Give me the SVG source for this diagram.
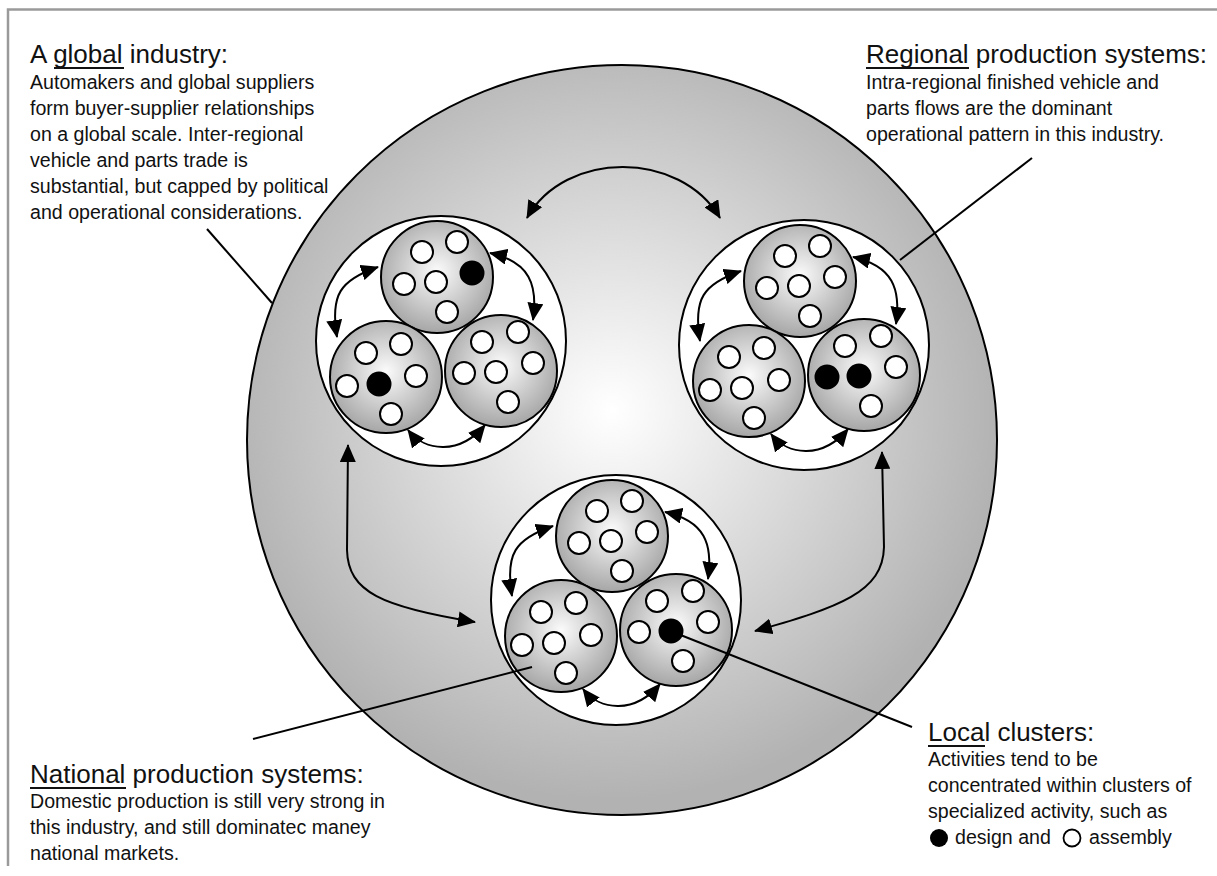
<svg xmlns="http://www.w3.org/2000/svg" width="1217" height="876" viewBox="0 0 1217 876">
<defs>
<radialGradient id="gBig" gradientUnits="userSpaceOnUse" cx="612" cy="410" r="390">
<stop offset="0" stop-color="#ffffff"/>
<stop offset="1" stop-color="#b2b2b2"/>
</radialGradient>
<radialGradient id="gSub" cx="0.5" cy="0.45" r="0.55">
<stop offset="0" stop-color="#fbfbfb"/>
<stop offset="1" stop-color="#a6a6a6"/>
</radialGradient>
<marker id="ah" viewBox="0 0 18 16" markerUnits="userSpaceOnUse" markerWidth="18" markerHeight="16" refX="17" refY="8" orient="auto-start-reverse">
<path d="M0,0 L18,8 L0,16 z" fill="#000"/>
</marker>
<style>
.big{fill:url(#gBig);stroke:#000;stroke-width:2}
.region{fill:#fff;stroke:#000;stroke-width:2}
.sub{fill:url(#gSub);stroke:#000;stroke-width:2}
.w{fill:#fff;stroke:#000;stroke-width:2}
.b{fill:#000;stroke:#000;stroke-width:2}
.arr{fill:none;stroke:#000;stroke-width:2;marker-start:url(#ah);marker-end:url(#ah)}
.call{fill:none;stroke:#000;stroke-width:2}
.h{font-family:"Liberation Sans",Arial,sans-serif;font-size:26px;fill:#111}
.t{font-family:"Liberation Sans",Arial,sans-serif;font-size:19.6px;fill:#111}
.ul{stroke:#111;stroke-width:2}
</style>
</defs>
<rect width="1217" height="876" fill="#fff"/>
<path d="M8,866 V9.5 H1217" fill="none" stroke="#9a9a9a" stroke-width="2.5"/>

<g id="world">
<circle class="big" cx="622" cy="440" r="375"/>
</g>

<g id="region-top-left" transform="translate(441,341)">
<circle class="region" r="125"/>
<g id="tl-a" transform="translate(-4,-64)"><circle class="sub" r="56"/>
<circle class="w" cx="-15" cy="-25" r="11"/><circle class="w" cx="20" cy="-35" r="11"/><circle class="w" cx="-33" cy="7" r="11"/><circle class="w" cx="-1" cy="5" r="11"/><circle class="b" cx="35" cy="-4" r="11.5"/><circle class="w" cx="10" cy="35" r="11"/></g>
<g id="tl-b" transform="translate(-55,36)"><circle class="sub" r="56"/>
<circle class="w" cx="-20" cy="-24" r="11"/><circle class="w" cx="15" cy="-33" r="11"/><circle class="w" cx="-39" cy="9" r="11"/><circle class="b" cx="-7" cy="7" r="11.5"/><circle class="w" cx="30" cy="-1" r="11"/><circle class="w" cx="5" cy="37" r="11"/></g>
<g id="tl-c" transform="translate(60,30)"><circle class="sub" r="56"/>
<circle class="w" cx="-19" cy="-29" r="11"/><circle class="w" cx="17" cy="-39" r="11"/><circle class="w" cx="-37" cy="2" r="11"/><circle class="w" cx="-5" cy="1" r="11"/><circle class="w" cx="32" cy="-8" r="11"/><circle class="w" cx="7" cy="31" r="11"/></g>
</g>

<g id="region-top-right" transform="translate(804,345)">
<circle class="region" r="125"/>
<g id="tr-a" transform="translate(-4,-64)"><circle class="sub" r="56"/>
<circle class="w" cx="-15" cy="-25" r="11"/><circle class="w" cx="20" cy="-35" r="11"/><circle class="w" cx="-33" cy="7" r="11"/><circle class="w" cx="-1" cy="5" r="11"/><circle class="w" cx="35" cy="-4" r="11"/><circle class="w" cx="10" cy="35" r="11"/></g>
<g id="tr-b" transform="translate(-55,36)"><circle class="sub" r="56"/>
<circle class="w" cx="-20" cy="-24" r="11"/><circle class="w" cx="15" cy="-33" r="11"/><circle class="w" cx="-39" cy="9" r="11"/><circle class="w" cx="-7" cy="7" r="11"/><circle class="w" cx="30" cy="-1" r="11"/><circle class="w" cx="5" cy="37" r="11"/></g>
<g id="tr-c" transform="translate(60,30)"><circle class="sub" r="56"/>
<circle class="w" cx="-19" cy="-29" r="11"/><circle class="w" cx="17" cy="-39" r="11"/><circle class="b" cx="-37" cy="2" r="11.5"/><circle class="b" cx="-5" cy="1" r="11.5"/><circle class="w" cx="32" cy="-8" r="11"/><circle class="w" cx="7" cy="31" r="11"/></g>
</g>

<g id="region-bottom" transform="translate(616,600)">
<circle class="region" r="125"/>
<g id="b-a" transform="translate(-4,-64)"><circle class="sub" r="56"/>
<circle class="w" cx="-15" cy="-25" r="11"/><circle class="w" cx="20" cy="-35" r="11"/><circle class="w" cx="-33" cy="7" r="11"/><circle class="w" cx="-1" cy="5" r="11"/><circle class="w" cx="35" cy="-4" r="11"/><circle class="w" cx="10" cy="35" r="11"/></g>
<g id="b-b" transform="translate(-55,36)"><circle class="sub" r="56"/>
<circle class="w" cx="-20" cy="-24" r="11"/><circle class="w" cx="15" cy="-33" r="11"/><circle class="w" cx="-39" cy="9" r="11"/><circle class="w" cx="-7" cy="7" r="11"/><circle class="w" cx="30" cy="-1" r="11"/><circle class="w" cx="5" cy="37" r="11"/></g>
<g id="b-c" transform="translate(60,30)"><circle class="sub" r="56"/>
<circle class="w" cx="-19" cy="-29" r="11"/><circle class="w" cx="17" cy="-39" r="11"/><circle class="w" cx="-37" cy="2" r="11"/><circle class="b" cx="-5" cy="1" r="11.5"/><circle class="w" cx="32" cy="-8" r="11"/><circle class="w" cx="7" cy="31" r="11"/></g>
</g>

<g id="connectors">
<g transform="translate(441,341)">
<path class="arr" d="M-63,-74 C-101,-61 -111,-46 -104,-4"/>
<path class="arr" d="M49,-88 C89,-79 97,-56 92,-21"/>
<path class="arr" d="M-33,89 C-16,111 19,114 44,84"/>
</g>
<g transform="translate(804,345)">
<path class="arr" d="M-63,-74 C-101,-61 -111,-46 -104,-4"/>
<path class="arr" d="M49,-88 C89,-79 97,-56 92,-21"/>
<path class="arr" d="M-33,89 C-16,111 19,114 44,84"/>
</g>
<g transform="translate(616,600)">
<path class="arr" d="M-63,-74 C-101,-61 -111,-46 -104,-4"/>
<path class="arr" d="M49,-88 C89,-79 97,-56 92,-21"/>
<path class="arr" d="M-33,89 C-16,111 19,114 44,84"/>
</g>
<path class="arr" d="M527,218 C565,150 680,150 720,218"/>
<path class="arr" d="M348,445 L347,550 C348,592 382,607 475,622"/>
<path class="arr" d="M882,452 L884,547 C883,592 840,607 755,631"/>
<line class="call" x1="207" y1="229" x2="272" y2="303"/>
<line class="call" x1="1032" y1="158" x2="900" y2="260"/>
<line class="call" x1="253" y1="739" x2="532" y2="667"/>
<line class="call" x1="673" y1="632" x2="912" y2="727"/>
</g>

<g id="label-global">
<text class="h" x="30" y="63">A global industry:</text>
<line class="ul" x1="54" y1="68" x2="124" y2="68"/>
<text class="t" x="30" y="89">Automakers and global suppliers</text>
<text class="t" x="30" y="115">form buyer-supplier relationships</text>
<text class="t" x="30" y="141">on a global scale. Inter-regional</text>
<text class="t" x="30" y="167">vehicle and parts trade is</text>
<text class="t" x="30" y="193">substantial, but capped by political</text>
<text class="t" x="30" y="219">and operational considerations.</text>
</g>

<g id="label-regional">
<text class="h" x="866" y="63">Regional production systems:</text>
<line class="ul" x1="866" y1="68" x2="969" y2="68"/>
<text class="t" x="866" y="89">Intra-regional finished vehicle and</text>
<text class="t" x="866" y="115">parts flows are the dominant</text>
<text class="t" x="866" y="141">operational pattern in this industry.</text>
</g>

<g id="label-national">
<text class="h" x="30" y="783">National production systems:</text>
<line class="ul" x1="30" y1="788" x2="126" y2="788"/>
<text class="t" x="30" y="808">Domestic production is still very strong in</text>
<text class="t" x="30" y="834">this industry, and still dominatec maney</text>
<text class="t" x="30" y="860">national markets.</text>
</g>

<g id="label-local">
<text class="h" x="928" y="741">Local clusters:</text>
<line class="ul" x1="928" y1="746" x2="985" y2="746"/>
<text class="t" x="928" y="766">Activities tend to be</text>
<text class="t" x="928" y="792">concentrated within clusters of</text>
<text class="t" x="928" y="818">specialized activity, such as</text>
<circle cx="939" cy="838" r="9" fill="#000"/>
<text class="t" x="955" y="844">design and</text>
<circle cx="1072" cy="838" r="8.5" fill="#fff" stroke="#000" stroke-width="1.8"/>
<text class="t" x="1089" y="844">assembly</text>
</g>
</svg>
